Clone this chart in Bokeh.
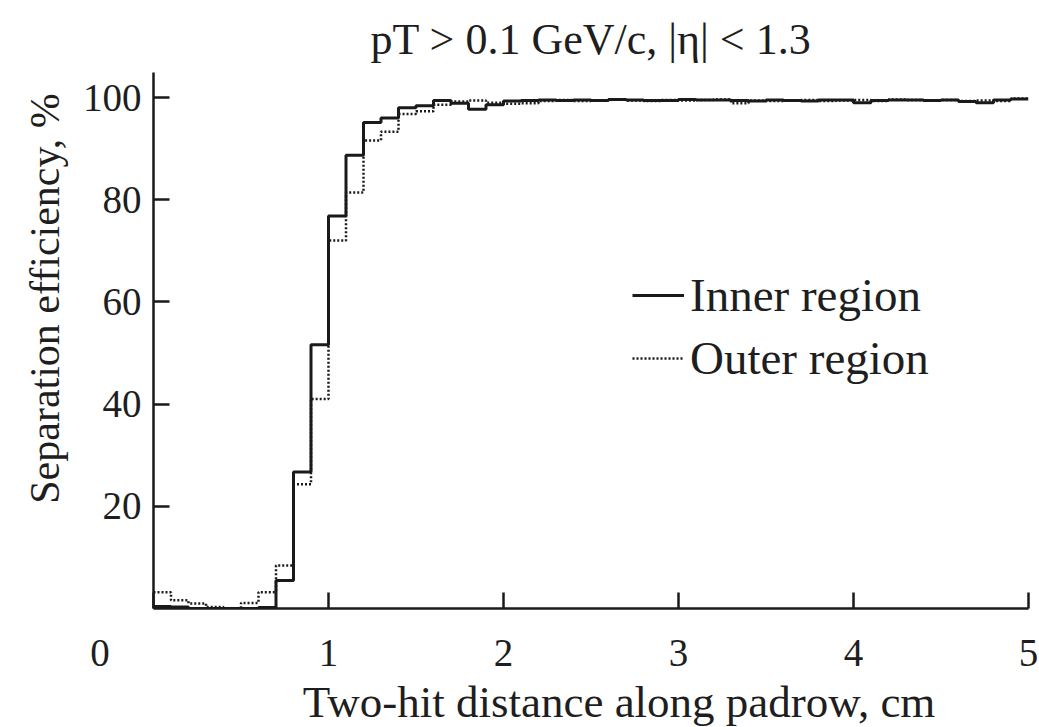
import numpy as np
from bokeh.plotting import figure
from bokeh.models import Legend, LegendItem, FixedTicker, Range1d
from bokeh.embed import file_html
from bokeh.resources import INLINE

# ---- data ----
bin_width = 0.1
inner_region = [0.4, 0.3, 0.0, 0.0, 0.0, 0.0, 0.2, 5.5, 26.7, 51.6,
                76.8, 88.7, 95.1, 96.0, 98.0, 98.4, 99.4, 98.9, 97.7, 98.6,
                99.3, 99.4, 99.5, 99.4, 99.5, 99.4, 99.6, 99.5, 99.4, 99.4,
                99.6, 99.5, 99.5, 99.4, 99.3, 99.5, 99.4, 99.3, 99.5, 99.5,
                99.0, 99.4, 99.5, 99.5, 99.4, 99.5, 99.2, 99.0, 99.5, 99.7]
outer_region = [3.2, 1.6, 1.0, 0.3, 0.0, 1.1, 3.2, 8.4, 24.3, 41.0,
                72.0, 81.4, 91.6, 93.3, 96.8, 97.3, 98.6, 99.2, 99.4, 99.0,
                98.8, 98.9, 99.3, 99.5, 99.3, 99.4, 99.6, 99.4, 99.3, 99.5,
                99.4, 99.5, 99.6, 98.9, 99.4, 99.3, 99.4, 99.5, 99.3, 99.4,
                99.5, 99.3, 99.6, 99.5, 99.4, 99.5, 99.3, 99.4, 99.3, 99.8]
x_ticks = [0, 1, 2, 3, 4, 5]
y_ticks = [20, 40, 60, 80, 100]
title_text = "pT > 0.1 GeV/c, |\u03b7| < 1.3"
x_label = "Two-hit distance along padrow, cm"
y_label = "Separation efficiency, %"

n_bins = len(inner_region)
edges = np.round(np.arange(n_bins + 1) * bin_width, 3)
inner_y = inner_region + [inner_region[-1]]
outer_y = outer_region + [outer_region[-1]]

FONT = "Liberation Serif"
TXT = "#1e1e1e"
LINE = "#1a1a1a"
NB = "\u00a0"

p = figure(frame_width=875, frame_height=536,
           min_border_left=153, min_border_right=11,
           min_border_top=72, min_border_bottom=118,
           output_backend="svg", toolbar_location=None,
           x_range=Range1d(0, 5), y_range=Range1d(0, 104.9),
           title=title_text)
p.background_fill_color = "white"
p.border_fill_color = "white"
p.outline_line_color = None
p.grid.visible = False

p.title.text_font = FONT
p.title.text_font_size = "44px"
p.title.text_font_style = "normal"
p.title.text_color = TXT
p.title.align = "center"
p.title.standoff = 18

r_in = p.step(edges, inner_y, mode="after", line_color=LINE, line_width=3)
r_out = p.step(edges, outer_y, mode="after", line_color=LINE, line_width=2.5,
               line_dash="2 2")

for ax in (p.xaxis[0], p.yaxis[0]):
    ax.axis_line_width = 2.5
    ax.axis_line_color = LINE
    ax.major_tick_line_width = 2.5
    ax.major_tick_line_color = LINE
    ax.major_tick_in = 16
    ax.major_tick_out = 0
    ax.minor_tick_line_color = None
    ax.major_label_text_font = FONT
    ax.major_label_text_font_size = "39px"
    ax.major_label_text_color = TXT
    ax.axis_label_text_font = FONT
    ax.axis_label_text_font_style = "normal"
    ax.axis_label_text_color = TXT

p.xaxis[0].ticker = FixedTicker(ticks=x_ticks)
p.yaxis[0].ticker = FixedTicker(ticks=y_ticks)
# the origin "0" sits left of the corner in the reference
p.xaxis[0].major_label_overrides = {0: "0" + NB * 11}
p.xaxis[0].axis_label = NB * 5 + x_label
p.xaxis[0].axis_label_text_font_size = "45px"
p.yaxis[0].axis_label = NB * 8 + y_label
p.yaxis[0].axis_label_text_font_size = "42px"
p.xaxis[0].major_label_standoff = 22
p.xaxis[0].axis_label_standoff = 0
p.yaxis[0].major_label_standoff = 12
p.yaxis[0].axis_label_standoff = 12

# legend
legend = Legend(items=[LegendItem(label="Inner region", renderers=[r_in]),
                       LegendItem(label="Outer region", renderers=[r_out])],
                location=(479, 223), orientation="vertical",
                background_fill_alpha=0, border_line_alpha=0,
                label_text_font=FONT, label_text_font_size="47px",
                label_text_color=TXT, glyph_width=52, glyph_height=40,
                label_height=40, label_standoff=6, spacing=9,
                padding=0, margin=0)
p.add_layout(legend)

open("out.html", "w").write(file_html(p, INLINE))
